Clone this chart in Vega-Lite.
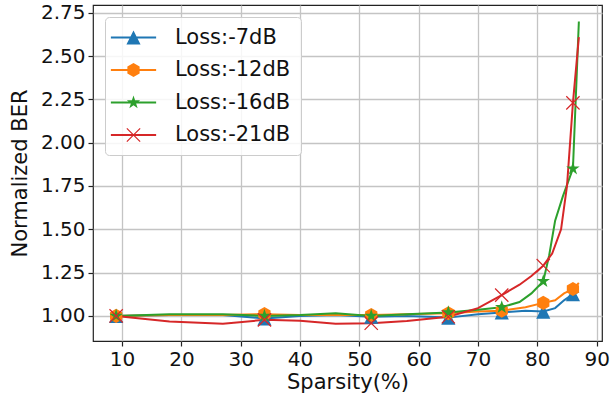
{
  "$schema": "https://vega.github.io/schema/vega-lite/v6.json",
  "width": 509,
  "height": 336,
  "autosize": {"type": "none"},
  "padding": {"left": 93, "top": 5, "right": 8, "bottom": 59},
  "config": {
    "font": "DejaVu Sans",
    "view": {"stroke": "#222222", "strokeWidth": 1.2},
    "axis": {
      "domain": false,
      "grid": true,
      "gridColor": "#c4c4c4",
      "gridWidth": 1.3,
      "tickColor": "#222222",
      "tickSize": 5,
      "tickWidth": 1.2,
      "labelFont": "DejaVu Sans",
      "labelFontSize": 20,
      "labelColor": "#111111",
      "labelPadding": 3,
      "titleFont": "DejaVu Sans",
      "titleFontSize": 21,
      "titleFontWeight": "normal",
      "titleColor": "#111111"
    }
  },
  "datasets": {
    "lines": [
      {"s": "Loss:-7dB", "x": 9, "y": 1.0},
      {"s": "Loss:-7dB", "x": 18, "y": 1.005},
      {"s": "Loss:-7dB", "x": 27, "y": 1.005},
      {"s": "Loss:-7dB", "x": 34, "y": 0.985},
      {"s": "Loss:-7dB", "x": 40, "y": 1.0},
      {"s": "Loss:-7dB", "x": 46, "y": 1.005},
      {"s": "Loss:-7dB", "x": 52, "y": 0.995},
      {"s": "Loss:-7dB", "x": 58, "y": 1.0},
      {"s": "Loss:-7dB", "x": 65, "y": 0.99},
      {"s": "Loss:-7dB", "x": 70, "y": 1.01},
      {"s": "Loss:-7dB", "x": 74, "y": 1.02},
      {"s": "Loss:-7dB", "x": 78, "y": 1.03},
      {"s": "Loss:-7dB", "x": 81, "y": 1.025},
      {"s": "Loss:-7dB", "x": 83, "y": 1.045},
      {"s": "Loss:-7dB", "x": 84.5, "y": 1.09},
      {"s": "Loss:-7dB", "x": 86, "y": 1.125},
      {"s": "Loss:-7dB", "x": 87, "y": 1.14},
      {"s": "Loss:-12dB", "x": 9, "y": 1.0},
      {"s": "Loss:-12dB", "x": 18, "y": 1.005},
      {"s": "Loss:-12dB", "x": 27, "y": 1.005},
      {"s": "Loss:-12dB", "x": 34, "y": 1.01},
      {"s": "Loss:-12dB", "x": 40, "y": 1.005},
      {"s": "Loss:-12dB", "x": 46, "y": 1.005},
      {"s": "Loss:-12dB", "x": 52, "y": 1.005},
      {"s": "Loss:-12dB", "x": 58, "y": 1.01},
      {"s": "Loss:-12dB", "x": 65, "y": 1.015},
      {"s": "Loss:-12dB", "x": 70, "y": 1.025},
      {"s": "Loss:-12dB", "x": 74, "y": 1.03},
      {"s": "Loss:-12dB", "x": 78, "y": 1.05},
      {"s": "Loss:-12dB", "x": 81, "y": 1.075},
      {"s": "Loss:-12dB", "x": 83, "y": 1.09},
      {"s": "Loss:-12dB", "x": 84.5, "y": 1.13},
      {"s": "Loss:-12dB", "x": 86, "y": 1.155},
      {"s": "Loss:-12dB", "x": 87, "y": 1.19},
      {"s": "Loss:-16dB", "x": 9, "y": 1.0},
      {"s": "Loss:-16dB", "x": 18, "y": 1.01},
      {"s": "Loss:-16dB", "x": 27, "y": 1.01},
      {"s": "Loss:-16dB", "x": 34, "y": 1.0},
      {"s": "Loss:-16dB", "x": 40, "y": 1.005},
      {"s": "Loss:-16dB", "x": 46, "y": 1.015},
      {"s": "Loss:-16dB", "x": 52, "y": 1.0},
      {"s": "Loss:-16dB", "x": 58, "y": 1.01},
      {"s": "Loss:-16dB", "x": 65, "y": 1.02},
      {"s": "Loss:-16dB", "x": 70, "y": 1.035},
      {"s": "Loss:-16dB", "x": 74, "y": 1.05},
      {"s": "Loss:-16dB", "x": 77, "y": 1.08},
      {"s": "Loss:-16dB", "x": 79, "y": 1.13},
      {"s": "Loss:-16dB", "x": 81, "y": 1.2},
      {"s": "Loss:-16dB", "x": 82, "y": 1.35},
      {"s": "Loss:-16dB", "x": 83, "y": 1.55},
      {"s": "Loss:-16dB", "x": 84.3, "y": 1.69},
      {"s": "Loss:-16dB", "x": 86, "y": 1.85},
      {"s": "Loss:-16dB", "x": 87, "y": 2.7},
      {"s": "Loss:-21dB", "x": 9, "y": 1.0},
      {"s": "Loss:-21dB", "x": 18, "y": 0.967},
      {"s": "Loss:-21dB", "x": 27, "y": 0.955},
      {"s": "Loss:-21dB", "x": 34, "y": 0.977},
      {"s": "Loss:-21dB", "x": 40, "y": 0.972},
      {"s": "Loss:-21dB", "x": 46, "y": 0.955},
      {"s": "Loss:-21dB", "x": 52, "y": 0.958},
      {"s": "Loss:-21dB", "x": 58, "y": 0.97},
      {"s": "Loss:-21dB", "x": 65, "y": 0.995},
      {"s": "Loss:-21dB", "x": 70, "y": 1.045},
      {"s": "Loss:-21dB", "x": 74, "y": 1.12},
      {"s": "Loss:-21dB", "x": 77, "y": 1.18},
      {"s": "Loss:-21dB", "x": 79, "y": 1.23},
      {"s": "Loss:-21dB", "x": 81, "y": 1.29},
      {"s": "Loss:-21dB", "x": 82.5, "y": 1.36},
      {"s": "Loss:-21dB", "x": 84, "y": 1.5},
      {"s": "Loss:-21dB", "x": 85, "y": 1.75},
      {"s": "Loss:-21dB", "x": 86, "y": 2.23},
      {"s": "Loss:-21dB", "x": 87, "y": 2.61}
    ],
    "markers": [
      {"s": "Loss:-7dB", "x": 9, "y": 1.0},
      {"s": "Loss:-7dB", "x": 34, "y": 0.985},
      {"s": "Loss:-7dB", "x": 52, "y": 0.995},
      {"s": "Loss:-7dB", "x": 65, "y": 0.99},
      {"s": "Loss:-7dB", "x": 74, "y": 1.02},
      {"s": "Loss:-7dB", "x": 81, "y": 1.025},
      {"s": "Loss:-7dB", "x": 86, "y": 1.125},
      {"s": "Loss:-12dB", "x": 9, "y": 1.0},
      {"s": "Loss:-12dB", "x": 34, "y": 1.01},
      {"s": "Loss:-12dB", "x": 52, "y": 1.005},
      {"s": "Loss:-12dB", "x": 65, "y": 1.015},
      {"s": "Loss:-12dB", "x": 74, "y": 1.03},
      {"s": "Loss:-12dB", "x": 81, "y": 1.075},
      {"s": "Loss:-12dB", "x": 86, "y": 1.155},
      {"s": "Loss:-16dB", "x": 9, "y": 1.0},
      {"s": "Loss:-16dB", "x": 34, "y": 1.0},
      {"s": "Loss:-16dB", "x": 52, "y": 1.0},
      {"s": "Loss:-16dB", "x": 65, "y": 1.02},
      {"s": "Loss:-16dB", "x": 74, "y": 1.05},
      {"s": "Loss:-16dB", "x": 81, "y": 1.2},
      {"s": "Loss:-16dB", "x": 86, "y": 1.85},
      {"s": "Loss:-21dB", "x": 9, "y": 1.0},
      {"s": "Loss:-21dB", "x": 34, "y": 0.977},
      {"s": "Loss:-21dB", "x": 52, "y": 0.958},
      {"s": "Loss:-21dB", "x": 65, "y": 0.995},
      {"s": "Loss:-21dB", "x": 74, "y": 1.12},
      {"s": "Loss:-21dB", "x": 81, "y": 1.29},
      {"s": "Loss:-21dB", "x": 86, "y": 2.23}
    ]
  },
  "encoding": {
    "x": {
      "field": "x", "type": "quantitative",
      "scale": {"domain": [5.1, 90.9], "nice": false, "zero": false},
      "axis": {"values": [10, 20, 30, 40, 50, 60, 70, 80, 90], "title": "Sparsity(%)", "titlePadding": 2}
    },
    "y": {
      "field": "y", "type": "quantitative",
      "scale": {"domain": [0.855, 2.795], "nice": false, "zero": false},
      "axis": {"values": [1.0, 1.25, 1.5, 1.75, 2.0, 2.25, 2.5, 2.75], "format": ".2f", "title": "Normalized BER", "titlePadding": 10}
    },
    "color": {
      "field": "s", "type": "nominal",
      "scale": {
        "domain": ["Loss:-7dB", "Loss:-12dB", "Loss:-16dB", "Loss:-21dB"],
        "range": ["#1f77b4", "#ff7f0e", "#2ca02c", "#d62728"]
      },
      "legend": {
        "title": null,
        "orient": "top-left",
        "offset": 12,
        "padding": 10,
        "fillColor": "rgba(255,255,255,0.85)",
        "strokeColor": "#cccccc",
        "cornerRadius": 4,
        "labelFont": "DejaVu Sans",
        "labelFontSize": 21,
        "labelColor": "#111111",
        "rowPadding": 10.5,
        "symbolSize": 200,
        "symbolOffset": 8,
        "labelOffset": 31,
        "symbolStrokeWidth": 0,
        "symbolOpacity": 1
      }
    }
  },
  "layer": [
    {
      "data": {"name": "markers"},
      "mark": {"type": "point", "filled": true, "opacity": 1, "strokeWidth": 0, "size": 0},
      "encoding": {
        "shape": {
          "field": "s", "type": "nominal",
          "scale": {
            "domain": ["Loss:-7dB", "Loss:-12dB", "Loss:-16dB", "Loss:-21dB"],
            "range": [
              "M-3.2,-0.14L3.2,-0.14L3.2,0.14L-3.2,0.14Z M0,-1L1,1L-1,1Z",
              "M-3.2,-0.14L3.2,-0.14L3.2,0.14L-3.2,0.14Z M0,-1L0.866,-0.5L0.866,0.5L0,1L-0.866,0.5L-0.866,-0.5Z",
              "M-3.2,-0.14L3.2,-0.14L3.2,0.14L-3.2,0.14Z M0,-1L0.2245,-0.309L0.951,-0.309L0.3633,0.118L0.5878,0.809L0,0.382L-0.5878,0.809L-0.3633,0.118L-0.951,-0.309L-0.2245,-0.309Z",
              "M-3.2,-0.14L3.2,-0.14L3.2,0.14L-3.2,0.14Z M-1,-0.88L-0.88,-1L1,0.88L0.88,1Z M0.88,-1L1,-0.88L-0.88,1L-1,0.88Z"
            ]
          },
          "legend": {"title": null}
        }
      }
    },
    {
      "data": {"name": "lines"},
      "mark": {"type": "line", "strokeWidth": 2, "interpolate": "linear"}
    },
    {
      "data": {"name": "markers"},
      "transform": [{"filter": "datum.s == 'Loss:-7dB'"}],
      "mark": {"type": "point", "filled": true, "opacity": 1, "strokeWidth": 0, "size": 200, "shape": "M0,-1L1,1L-1,1Z"}
    },
    {
      "data": {"name": "markers"},
      "transform": [{"filter": "datum.s == 'Loss:-12dB'"}],
      "mark": {"type": "point", "filled": true, "opacity": 1, "strokeWidth": 0, "size": 200, "shape": "M0,-1L0.866,-0.5L0.866,0.5L0,1L-0.866,0.5L-0.866,-0.5Z"}
    },
    {
      "data": {"name": "markers"},
      "transform": [{"filter": "datum.s == 'Loss:-16dB'"}],
      "mark": {"type": "point", "filled": true, "opacity": 1, "strokeWidth": 0, "size": 200, "shape": "M0,-1L0.2245,-0.309L0.951,-0.309L0.3633,0.118L0.5878,0.809L0,0.382L-0.5878,0.809L-0.3633,0.118L-0.951,-0.309L-0.2245,-0.309Z"}
    },
    {
      "data": {"name": "markers"},
      "transform": [{"filter": "datum.s == 'Loss:-21dB'"}],
      "mark": {"type": "point", "filled": true, "opacity": 1, "strokeWidth": 0, "size": 200, "shape": "M-1,-0.88L-0.88,-1L1,0.88L0.88,1Z M0.88,-1L1,-0.88L-0.88,1L-1,0.88Z"}
    }
  ]
}
